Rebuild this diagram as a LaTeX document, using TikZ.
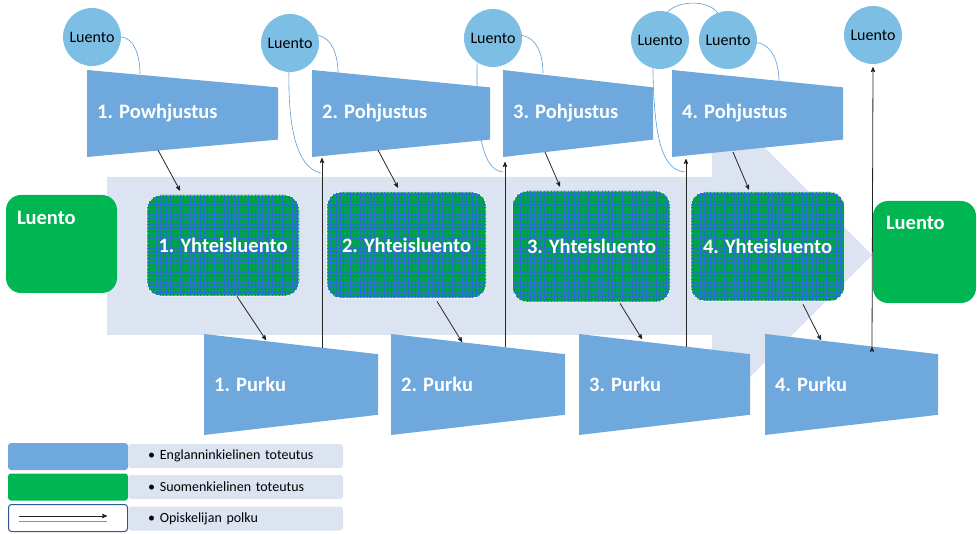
\documentclass[tikz,border=0pt]{standalone}
\usepackage{fontspec}
\setmainfont{Carlito}
\usetikzlibrary{
        arrows,
        patterns.meta
    }
\definecolor{suppilo}{RGB}{111,168,220}
\definecolor{pallo}{RGB}{125,190,228}
\definecolor{vihrea}{RGB}{0,182,82}
\definecolor{ruutu}{RGB}{38,112,205}
\definecolor{tausta}{RGB}{219,228,240}
\definecolor{polku}{RGB}{91,155,213}
\definecolor{reuna}{RGB}{47,85,151}
\tikzset{>=stealth'}
\tikzset{
    luento/.style={circle, fill=pallo, minimum size=58pt, inner sep=0pt,
        font=\fontsize{16}{18}\selectfont},
    otsikko/.style={inner sep=0pt, text=white, font=\fontsize{20.5}{23}\selectfont\bfseries},
    yhteis/.style={rounded corners=14pt, draw=white, line width=0.8pt, fill=vihrea!90!black,
        postaction={pattern={Lines[angle=0,distance=3.4pt,line width=0.55pt]}, pattern color=ruutu},
        postaction={pattern={Lines[angle=90,distance=3.4pt,line width=0.55pt]}, pattern color=ruutu},
        text=white, font=\fontsize{20.5}{23}\selectfont\bfseries},
    laatikko/.style={rounded corners=15pt, fill=vihrea, inner sep=0pt},
    polkuviiva/.style={draw=polku, line width=0.6pt},
    pilkku/.style={draw=black!85, line width=0.8pt},
    merkki/.style={rounded corners=3pt, inner sep=0pt, minimum width=120pt, minimum height=27pt},
    selite/.style={anchor=west, fill=tausta, rounded corners=3pt, minimum height=24pt,
        text width=175pt, inner xsep=20pt, align=left, font=\fontsize{14}{16}\selectfont}
}
% suppilo: nimi, vasen x, oikea x, yla y, ala y, teksti
\newcommand{\suppilo}[6]{%
    \fill[suppilo] (#2,#4) -- (#3,{#4+0.2*(#5-#4)}) -- (#3,{#5-0.2*(#5-#4)}) -- (#2,#5) -- cycle;
    \node[otsikko, anchor=west] (#1) at ({#2+10},{(#4+#5)/2}) {#6};
}

\begin{document}
\begin{tikzpicture}[x=1pt,y=-1pt]
    \useasboundingbox (0,0) rectangle (977,534);
    % iso nuoli taustalla
    \fill[tausta] (107,177) -- (712,177) -- (712,95) -- (872,255) -- (712,415) -- (712,335) -- (107,335) -- cycle;

    % luennot
    \node[luento] (l1) at (92,37)  {Luento};
    \node[luento] (l2) at (290,43) {Luento};
    \node[luento] (l3) at (493,38) {Luento};
    \node[luento] (l4) at (660,40) {Luento};
    \node[luento] (l5) at (728,40) {Luento};
    \node[luento] (l6) at (873,35) {Luento};

    % polun paat
    \coordinate (k1) at (140,74);
    \coordinate (k2) at (321,173);
    \coordinate (k3) at (338,73);
    \coordinate (k4) at (503,172);
    \coordinate (k5) at (543,73);
    \coordinate (k6) at (685,172);
    \coordinate (k7) at (779,82);

    \draw[polkuviiva] (l1.east) .. controls (134,38) and (140,55) .. (k1);
    \draw[polkuviiva] (l2.268) .. controls (288,125) and (296,168) .. (k2);
    \draw[polkuviiva] (l2.15) .. controls (332,38) and (338,55) .. (k3);
    \draw[polkuviiva] (l3.237) .. controls (476,140) and (484,170) .. (k4);
    \draw[polkuviiva] (l3.5) .. controls (537,38) and (543,55) .. (k5);
    \draw[polkuviiva] (l4.256) .. controls (654,145) and (664,170) .. (k6);
    \draw[polkuviiva] (l4.75) .. controls (680,0) and (708,0) .. (l5.111);
    \draw[polkuviiva] (l5.-5) .. controls (772,45) and (779,62) .. (k7);

    % pohjustukset ja purut
    \suppilo{p1}{87}{278}{70}{157}{1. Powhjustus}
    \suppilo{p2}{312}{490}{70}{157}{2. Pohjustus}
    \suppilo{p3}{503}{653}{70}{157}{3. Pohjustus}
    \suppilo{p4}{672}{843}{70}{157}{4. Pohjustus}
    \suppilo{u1}{204}{378}{334}{435}{1. Purku}
    \suppilo{u2}{391}{565}{334}{435}{2. Purku}
    \suppilo{u3}{579}{750}{334}{435}{3. Purku}
    \suppilo{u4}{765}{938}{334}{435}{4. Purku}

    % yhteisluennot
    \node[yhteis, minimum width=152pt, minimum height=101pt] (y1) at (223,245.5) {1. Yhteisluento};
    \node[yhteis, minimum width=159pt, minimum height=106pt] (y2) at (406.5,245) {2. Yhteisluento};
    \node[yhteis, minimum width=157pt, minimum height=111pt] (y3) at (591.5,246.5) {3. Yhteisluento};
    \node[yhteis, minimum width=153pt, minimum height=109pt] (y4) at (767.5,246.5) {4. Yhteisluento};

    % luento alussa ja lopussa
    \node[laatikko, minimum width=111pt, minimum height=98pt] (v1) at (61.5,244) {};
    \node[otsikko, anchor=west] (v1t) at ([shift={(11,23)}]v1.north west) {Luento};
    \node[laatikko, minimum width=103pt, minimum height=102pt] (v2) at (924.5,252) {};
    \node[otsikko, anchor=west] (v2t) at ([shift={(13,22)}]v2.north west) {Luento};

    % opiskelijan polku
    \coordinate (a1) at (158,150);
    \coordinate (a2) at (378,150);
    \coordinate (a3) at (545,152);
    \coordinate (a4) at (733,152);
    \coordinate (b1) at (266,340);
    \coordinate (b2) at (462,342);
    \coordinate (b3) at (642,339);
    \coordinate (b4) at (821,340);
    \coordinate (c1) at (322,348);
    \coordinate (c2) at (505,347);
    \coordinate (c3) at (686,347);
    \coordinate (c4) at (872,347);
    \coordinate (d1) at (322,158);
    \coordinate (d2) at (505,162);
    \coordinate (d3) at (686,159);

    \path[pilkku,->]
        (a1) edge ([shift={(-43,-4)}]y1.north)
        (a2) edge ([shift={(-8.5,-4)}]y2.north)
        (a3) edge ([shift={(-31.5,-4)}]y3.north)
        (a4) edge ([shift={(-18.5,-2)}]y4.north)
        ([shift={(14,0)}]y1.south) edge (b1)
        ([shift={(30.5,3)}]y2.south) edge (b2)
        ([shift={(28.5,1)}]y3.south) edge (b3)
        ([shift={(35.5,3)}]y4.south) edge (b4)
        (c1) edge (d1)
        (c2) edge (d2)
        (c3) edge (d3)
        (c4) edge ([yshift=-3pt]l6.south)
        ;

    % selitteet
    \node[merkki, fill=suppilo] (m1) at (68,456.5) {};
    \node[merkki, fill=vihrea] (m2) at (68,487) {};
    \node[merkki, draw=reuna, line width=1pt, fill=white, minimum width=119pt, minimum height=27pt] (m3) at (68,518) {};
    \coordinate (m3a) at (19,516);
    \coordinate (m3b) at (107,516);
    \draw[pilkku,->] (m3a) -- (m3b);
    \draw[polkuviiva] ([yshift=-5pt]m3a) -- ([yshift=-5pt]m3b);
    \node[selite] (s1) at (128,456) {• Englanninkielinen toteutus};
    \node[selite] (s2) at (128,487) {• Suomenkielinen toteutus};
    \node[selite] (s3) at (128,518.5) {• Opiskelijan polku};
\end{tikzpicture}
\end{document}
